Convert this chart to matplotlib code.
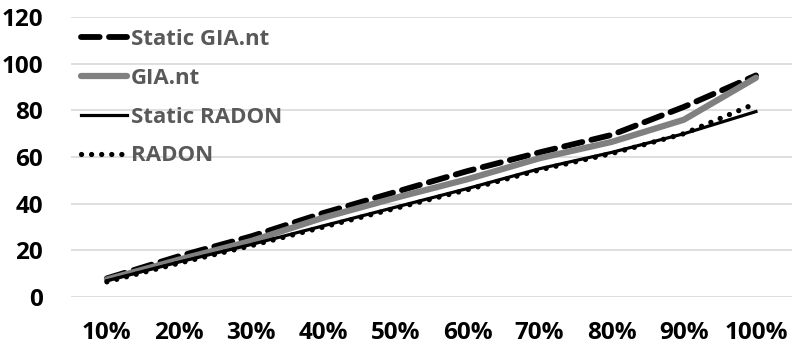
import matplotlib.pyplot as plt
import numpy as np

categories = ["10%", "20%", "30%", "40%", "50%", "60%", "70%", "80%", "90%", "100%"]
static_gia = [8, 17.5, 26, 36, 45, 54, 62, 69.5, 81.5, 95]
gia_nt = [7.5, 16, 24, 34, 42.5, 50.5, 59.5, 66.5, 76, 94]
static_radon = [7, 15, 22.5, 30.5, 38.5, 46.5, 55, 62, 70, 79.5]
radon = [6.5, 14.5, 22, 30, 38, 46, 54.5, 61.5, 70, 83]

plt.rcParams["font.family"] = ["Open Sans", "DejaVu Sans"]

fig = plt.figure(figsize=(7.96, 3.49), dpi=100)
ax = fig.add_axes([0.089, 0.149, 0.906, 0.802])
x = np.arange(len(categories))

ax.plot(x, static_gia, color="black", lw=4.2, dashes=(3.2, 1.6), dash_capstyle="round",
        label="Static GIA.nt", zorder=3)
ax.plot(x, gia_nt, color="#808080", lw=4.5, solid_capstyle="round", label="GIA.nt", zorder=4)
ax.plot(x, static_radon, color="black", lw=2.3, label="Static RADON", zorder=5)
ax.plot(x, radon, color="black", lw=3.8, dashes=(0.01, 1.9), dash_capstyle="round",
        label="RADON", zorder=6)

ax.set_xlim(-0.5, len(categories) - 0.5)
ax.set_ylim(0, 120)
ax.set_yticks(np.arange(0, 121, 20))
ax.set_xticks(x)
ax.set_xticklabels(categories)
ax.grid(axis="y", color="#d9d9d9", lw=1.2)
ax.set_axisbelow(True)
for s in ax.spines.values():
    s.set_visible(False)
ax.tick_params(length=0, labelsize=17.5)
ax.tick_params(axis="x", pad=17)
ax.tick_params(axis="y", pad=20)
for lab in ax.get_xticklabels() + ax.get_yticklabels():
    lab.set_fontweight("bold")

leg = ax.legend(loc="upper left", bbox_to_anchor=(-0.002, 0.997), frameon=False,
                fontsize=16, handlelength=2.1, handletextpad=0.15, labelspacing=0.8,
                borderaxespad=0.1)
for t in leg.get_texts():
    t.set_color("#595959")
    t.set_fontweight("bold")

fig.savefig("out.png", dpi=100)
